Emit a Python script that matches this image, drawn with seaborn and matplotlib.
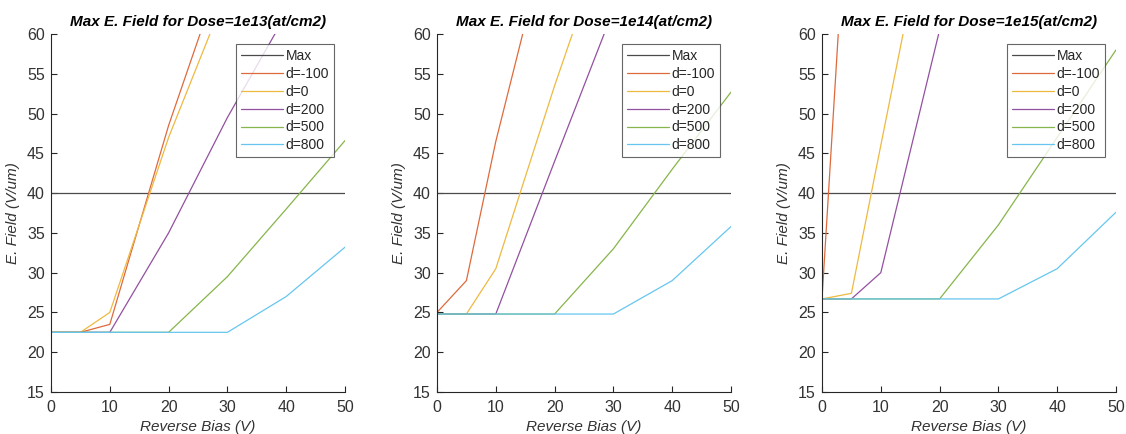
import numpy as np
import pandas as pd
import matplotlib
matplotlib.use("Agg")
import matplotlib.pyplot as plt
import seaborn as sns

# ---------------- data ----------------
bias = [0, 5, 10, 20, 30, 40, 50]
series_labels = ["Max", "d=-100", "d=0", "d=200", "d=500", "d=800"]
titles = ["Max E. Field for Dose=1e13(at/cm2)",
          "Max E. Field for Dose=1e14(at/cm2)",
          "Max E. Field for Dose=1e15(at/cm2)"]

max_field = [40, 40, 40, 40, 40, 40, 40]

# Dose 1e13
d13_m100 = [22.5, 22.5, 23.5, 48.5, 70.0, 92.0, 114.0]
d13_0    = [22.5, 22.5, 25.0, 47.0, 65.5, 84.0, 102.0]
d13_200  = [22.5, 22.5, 22.5, 35.0, 49.5, 62.5, 75.0]
d13_500  = [22.5, 22.5, 22.5, 22.5, 29.5, 38.0, 46.6]
d13_800  = [22.5, 22.5, 22.5, 22.5, 22.5, 27.0, 33.2]

# Dose 1e14
d14_m100 = [25.0, 29.0, 46.5, 76.0, 105.0, 134.0, 163.0]
d14_0    = [24.8, 24.8, 30.5, 53.5, 75.0, 96.0, 117.0]
d14_200  = [24.8, 24.8, 24.8, 44.0, 63.0, 82.0, 101.0]
d14_500  = [24.8, 24.8, 24.8, 24.8, 33.0, 43.0, 52.7]
d14_800  = [24.8, 24.8, 24.8, 24.8, 24.8, 29.0, 35.8]

# Dose 1e15
d15_m100 = [26.7, 87.0, 147.0, 267.0, 387.0, 507.0, 627.0]
d15_0    = [26.7, 27.4, 46.0, 83.0, 120.0, 157.0, 194.0]
d15_200  = [26.7, 26.7, 30.0, 60.5, 91.0, 121.0, 151.0]
d15_500  = [26.7, 26.7, 26.7, 26.7, 36.0, 47.0, 58.0]
d15_800  = [26.7, 26.7, 26.7, 26.7, 26.7, 30.5, 37.6]

panels = [
    [max_field, d13_m100, d13_0, d13_200, d13_500, d13_800],
    [max_field, d14_m100, d14_0, d14_200, d14_500, d14_800],
    [max_field, d15_m100, d15_0, d15_200, d15_500, d15_800],
]

colors = ["#4a4a4a", "#DE6A3C", "#EEB940", "#9350A0", "#86B54A", "#66C6F0"]

# ---------------- style ----------------
sns.set_theme(style="ticks")
plt.rcParams["font.family"] = ["Liberation Sans", "DejaVu Sans"]
axis_col = "#262626"
plt.rcParams.update({
    "axes.edgecolor": axis_col,
    "xtick.color": axis_col,
    "ytick.color": axis_col,
    "axes.labelcolor": axis_col,
})

fig = plt.figure(figsize=(11.26, 4.34), dpi=100)
lefts = [51, 437, 822]
ax_w = 294 / 1126
ax_b = (434 - 392) / 434
ax_h = 358 / 434

for i, (vals, title) in enumerate(zip(panels, titles)):
    ax = fig.add_axes([lefts[i] / 1126, ax_b, ax_w, ax_h])
    rows = []
    for lab, ys in zip(series_labels, vals):
        for xv, yv in zip(bias, ys):
            rows.append({"bias": xv, "field": yv, "series": lab})
    df = pd.DataFrame(rows)
    sns.lineplot(data=df, x="bias", y="field", hue="series",
                 hue_order=series_labels, palette=colors, linewidth=0.9,
                 ax=ax, legend=True, sort=False)
    ax.set_xlim(0, 50)
    ax.set_ylim(15, 60)
    ax.set_xticks([0, 10, 20, 30, 40, 50])
    ax.set_yticks([15, 20, 25, 30, 35, 40, 45, 50, 55, 60])
    ax.tick_params(direction="in", length=4, width=0.8, labelsize=11.5,
                   colors=axis_col, labelcolor="#333333")
    ax.tick_params(axis="x", pad=6)
    ax.tick_params(axis="y", pad=4.5)
    for s in ["top", "right"]:
        ax.spines[s].set_visible(False)
    for s in ["left", "bottom"]:
        ax.spines[s].set_linewidth(0.8)
    ax.set_xlabel("Reverse Bias (V)", fontsize=11, style="italic",
                  color="#333333", labelpad=3)
    ax.set_ylabel("E. Field (V/um)", fontsize=11, style="italic",
                  color="#333333", labelpad=5)
    ax.set_title(title, fontsize=11, fontweight="bold", style="italic",
                 color="black", pad=6)
    leg = ax.legend(loc="upper right", bbox_to_anchor=(0.962, 0.972),
                    borderaxespad=0, fontsize=10, handlelength=3.0,
                    handletextpad=0.2, labelspacing=0.28, borderpad=0.35,
                    frameon=True, fancybox=False, title=None)
    leg.get_frame().set_edgecolor("#404040")
    leg.get_frame().set_linewidth(0.8)
    for t in leg.get_texts():
        t.set_color("#262626")

fig.savefig("out.png", dpi=100)
